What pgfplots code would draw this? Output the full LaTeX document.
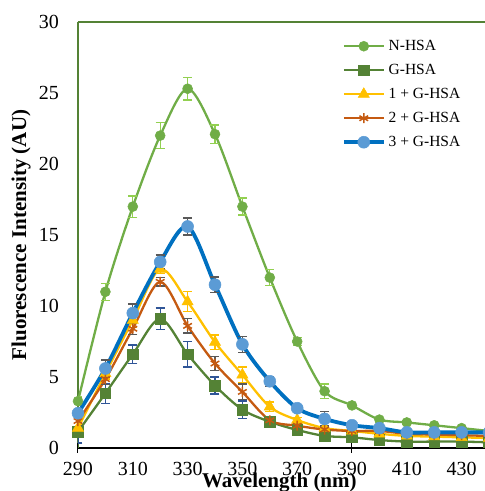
\documentclass[border=0pt]{standalone}
\usepackage{fontspec}
\setmainfont{Liberation Serif}
\usepackage{pgfplots}
\usepackage{pgfplotstable}
\pgfplotsset{compat=1.18}
\usetikzlibrary{calc}

\definecolor{clrN}{RGB}{112,173,71}
\definecolor{clrNerr}{RGB}{146,208,80}
\definecolor{clrG}{RGB}{84,130,53}
\definecolor{clrGerr}{RGB}{47,85,151}
\definecolor{clrOne}{RGB}{255,192,0}
\definecolor{clrTwo}{RGB}{197,90,17}
\definecolor{clrThree}{RGB}{0,112,192}
\definecolor{clrThreeMk}{RGB}{91,155,213}
\definecolor{clrGray}{RGB}{89,89,89}

\pgfplotstableread{
x y e
290 3.3 0.3
300 11.0 0.6
310 17.0 0.75
320 22.0 0.9
330 25.3 0.8
340 22.1 0.65
350 17.0 0.6
360 12.0 0.55
370 7.5 0.3
380 4.0 0.5
390 3.0 0.1
400 2.0 0.1
410 1.8 0.1
420 1.6 0.1
430 1.4 0.1
440 1.2 0.1
}\tabN

\pgfplotstableread{
x y e
290 1.15 0.8
300 3.85 0.7
310 6.6 0.65
320 9.1 0.75
330 6.6 0.9
340 4.4 0.6
350 2.7 0.6
360 1.85 0.15
370 1.27 0.15
380 0.85 0.4
390 0.75 0.2
400 0.56 0.2
410 0.45 0.4
420 0.45 0.1
430 0.45 0.1
440 0.4 0.1
}\tabG

\pgfplotstableread{
x y e
290 1.4 0.3
300 5.25 0.4
310 9.0 0.5
320 12.6 0.3
330 10.3 0.7
340 7.45 0.5
350 5.15 0.55
360 2.9 0.35
370 1.97 0.2
380 1.4 0.2
390 1.2 0.1
400 1.0 0.1
410 0.85 0.1
420 0.8 0.1
430 0.75 0.1
440 0.7 0.1
}\tabOne

\pgfplotstableread{
x y e
290 1.9 0.3
300 4.85 0.4
310 8.4 0.4
320 11.7 0.3
330 8.6 0.5
340 5.95 0.5
350 3.95 0.55
360 1.95 0.2
370 1.57 0.2
380 1.3 0.2
390 1.2 0.1
400 1.2 0.1
410 1.0 0.1
420 0.95 0.1
430 0.9 0.1
440 0.85 0.1
}\tabTwo

\pgfplotstableread{
x y e
290 2.45 0.3
300 5.6 0.6
310 9.5 0.65
320 13.1 0.5
330 15.6 0.6
340 11.5 0.55
350 7.3 0.55
360 4.7 0.35
370 2.8 0.2
380 2.05 0.5
390 1.6 0.1
400 1.4 0.1
410 1.1 0.1
420 1.1 0.1
430 1.1 0.1
440 1.1 0.1
}\tabThree

\begin{document}
\begin{tikzpicture}
\begin{axis}[
  scale only axis,
  width=411pt, height=426pt,
  xmin=290, xmax=440, ymin=0, ymax=30,
  axis x line*=bottom, axis y line*=left,
  x axis line style={black, line width=1.6pt},
  y axis line style={clrG, line width=1.4pt},
  xtick={290,310,...,430},
  ytick={0,5,...,30},
  major tick length=0pt,
  extra x ticks={290,390},
  extra x tick labels={},
  extra x tick style={major tick length=9pt, tick align=center,
    tick style={black, line width=1pt}},
  /pgf/number format/assume math mode=true,
  ticklabel style={font=\fontsize{20}{24}\selectfont, inner sep=0pt},
  xticklabel style={anchor=north, yshift=-14pt},
  yticklabel style={anchor=east, xshift=-19pt},
  xlabel={\textbf{Wavelength (nm)}},
  ylabel={\textbf{Fluorescence Intensity (AU)}},
  label style={font=\fontsize{21}{24}\selectfont},
  xlabel style={at={(axis description cs:0.49,0)}, anchor=base, yshift=-39pt},
  ylabel style={at={(axis description cs:-0.126,0.5)}, anchor=base},
  legend style={draw=none, fill=none, at={(rel axis cs:0.6416,0.96)},
    anchor=north west, font=\fontsize{15.5}{18}\selectfont,
    row sep=10pt, column sep=3pt, inner sep=0pt,
    nodes={inner sep=0pt, text height=11pt, text depth=3pt}},
  legend cell align=left,
  legend image code/.code={\draw[mark repeat=2,mark phase=2]
    plot coordinates {(0pt,0pt) (20pt,0pt) (40pt,0pt)};},
  every axis plot/.append style={smooth, tension=0.5},
]
\addplot[clrN, line width=2.3pt, mark=*, mark size=5pt,
  mark options={fill=clrN, draw=clrN, line width=0.5pt},
  error bars/.cd, y dir=both, y explicit,
  error bar style={clrNerr, line width=1.3pt},
  error mark options={rotate=90, mark size=4.5pt, clrNerr, line width=1.3pt}]
  table[x=x, y=y, y error=e] {\tabN};
\addlegendentry{N-HSA}
\addplot[clrG, line width=2.3pt, mark=square*, mark size=5.3pt,
  mark options={fill=clrG, draw=clrG, line width=0.5pt},
  error bars/.cd, y dir=both, y explicit,
  error bar style={clrGerr, line width=1.3pt},
  error mark options={rotate=90, mark size=4.5pt, clrGerr, line width=1.3pt}]
  table[x=x, y=y, y error=e] {\tabG};
\addlegendentry{G-HSA}
\addplot[clrOne, line width=2.3pt, mark=triangle*, mark size=6.5pt,
  mark options={fill=clrOne, draw=clrOne, line width=0.5pt},
  error bars/.cd, y dir=both, y explicit,
  error bar style={clrOne, line width=1.3pt},
  error mark options={rotate=90, mark size=4.5pt, clrOne, line width=1.3pt}]
  table[x=x, y=y, y error=e] {\tabOne};
\addlegendentry{1 + G-HSA}
\addplot[clrTwo, line width=2.3pt, mark=asterisk, mark size=5pt,
  mark options={draw=clrTwo, line width=1.5pt},
  error bars/.cd, y dir=both, y explicit,
  error bar style={clrGray, line width=1.3pt},
  error mark options={rotate=90, mark size=4.5pt, clrGray, line width=1.3pt}]
  table[x=x, y=y, y error=e] {\tabTwo};
\addlegendentry{2 + G-HSA}
\addplot[clrThree, line width=3.8pt, mark=*, mark size=6pt,
  mark options={fill=clrThreeMk, draw=clrThreeMk, line width=0.5pt},
  error bars/.cd, y dir=both, y explicit,
  error bar style={clrGray, line width=1.3pt},
  error mark options={rotate=90, mark size=4.5pt, clrGray, line width=1.3pt}]
  table[x=x, y=y, y error=e] {\tabThree};
\addlegendentry{3 + G-HSA}
\draw[clrG, line width=1.4pt] (rel axis cs:0,1) -- (rel axis cs:1,1);
\coordinate (bl) at (rel axis cs:0,0);
\coordinate (tr) at (rel axis cs:1,1);
\end{axis}
\pgfresetboundingbox
\path[use as bounding box] ($(bl)+(-78pt,-43pt)$) rectangle ($(tr)+(-4pt,22pt)$);
\end{tikzpicture}
\end{document}
